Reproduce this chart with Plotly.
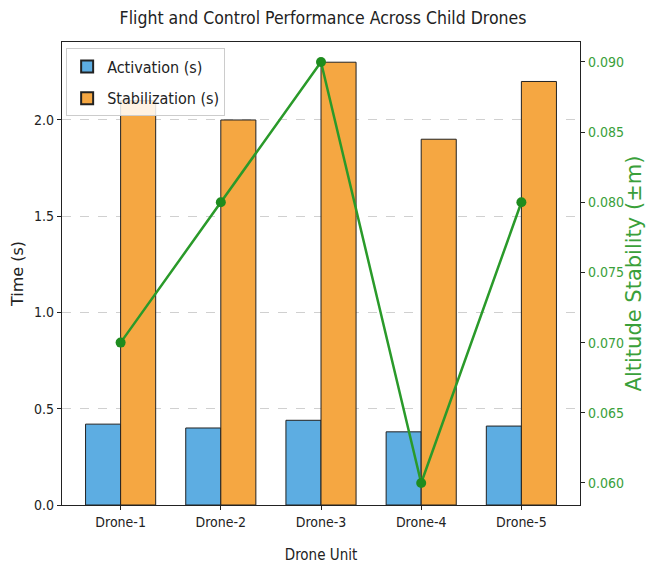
import plotly.graph_objects as go

drones = ["Drone-1", "Drone-2", "Drone-3", "Drone-4", "Drone-5"]
activation = [0.42, 0.40, 0.44, 0.38, 0.41]
stabilization = [2.1, 2.0, 2.3, 1.9, 2.2]
altitude = [0.070, 0.080, 0.090, 0.060, 0.080]
left_ticks = [0.0, 0.5, 1.0, 1.5, 2.0]
right_ticks = [0.060, 0.065, 0.070, 0.075, 0.080, 0.085, 0.090]

font = "DejaVu Sans Condensed, Liberation Sans Narrow, DejaVu Sans"
wide = "DejaVu Sans"

fig = go.Figure()
fig.add_trace(go.Bar(
    x=drones, y=activation, name="Activation (s)", legendgroup="a",
    marker=dict(color="#5DADE2", line=dict(color="#222222", width=1)),
))
fig.add_trace(go.Bar(
    x=drones, y=stabilization, name="Stabilization (s)", legendgroup="b",
    marker=dict(color="#F5A742", line=dict(color="#222222", width=1)),
))
fig.add_trace(go.Scatter(
    x=drones, y=altitude, name="Altitude Stability (±m)", yaxis="y2",
    mode="lines+markers", line=dict(color="#2a9a2a", width=2.5),
    marker=dict(color="#1e8c1e", size=10), showlegend=False,
))

fig.update_layout(
    width=646, height=571,
    margin=dict(l=62, r=66, t=42, b=66, autoexpand=False),
    paper_bgcolor="white", plot_bgcolor="white",
    barmode="group", bargap=0.3, bargroupgap=0,
    font=dict(family=font, size=12, color="#222222"),
    title=dict(text="Flight and Control Performance Across Child Drones",
               x=0.5, xanchor="center", y=0.98, yanchor="top",
               font=dict(family=font, size=17.5, color="#222222")),
    legend=dict(x=0.008, y=0.986, xanchor="left", yanchor="top",
                bgcolor="rgba(255,255,255,0.85)", bordercolor="#cccccc", borderwidth=1,
                font=dict(family=font, size=16, color="#222222"),
                traceorder="grouped", tracegroupgap=8,
                itemsizing="constant"),
    xaxis=dict(
        title=dict(text="Drone Unit", font=dict(size=15), standoff=20),
        range=[-0.585, 4.585], automargin=False,
        showline=True, linecolor="#222222", linewidth=1.2, mirror=True,
        ticks="outside", ticklen=4, tickcolor="#222222",
        showgrid=False, tickfont=dict(size=14),
    ),
    yaxis=dict(
        title=dict(text="Time (s)", font=dict(family=wide, size=16), standoff=6),
        range=[0, 2.405], tickvals=left_ticks, ticktext=[f"{v:.1f}" for v in left_ticks],
        automargin=False,
        showline=True, linecolor="#222222", linewidth=1.2,
        ticks="outside", ticklen=4, tickcolor="#222222",
        showgrid=True, gridcolor="#d0d0d0", griddash="dash", gridwidth=1,
        zeroline=False, tickfont=dict(size=14),
    ),
    yaxis2=dict(
        title=dict(text="Altitude Stability (±m)",
                   font=dict(family=wide, size=21, color="#3aa03a"), standoff=0),
        overlaying="y", side="right", automargin=False,
        range=[0.05843, 0.09142], tickvals=right_ticks,
        ticktext=[f"{v:.3f}" for v in right_ticks],
        tickfont=dict(size=14, color="#3aa03a"),
        showline=True, linecolor="#222222", linewidth=1.2,
        ticks="outside", ticklen=4, tickcolor="#222222",
        showgrid=False, zeroline=False,
    ),
)

fig.write_html("out.html", config={"displayModeBar": False},
               post_script="document.body.style.margin='0';")
